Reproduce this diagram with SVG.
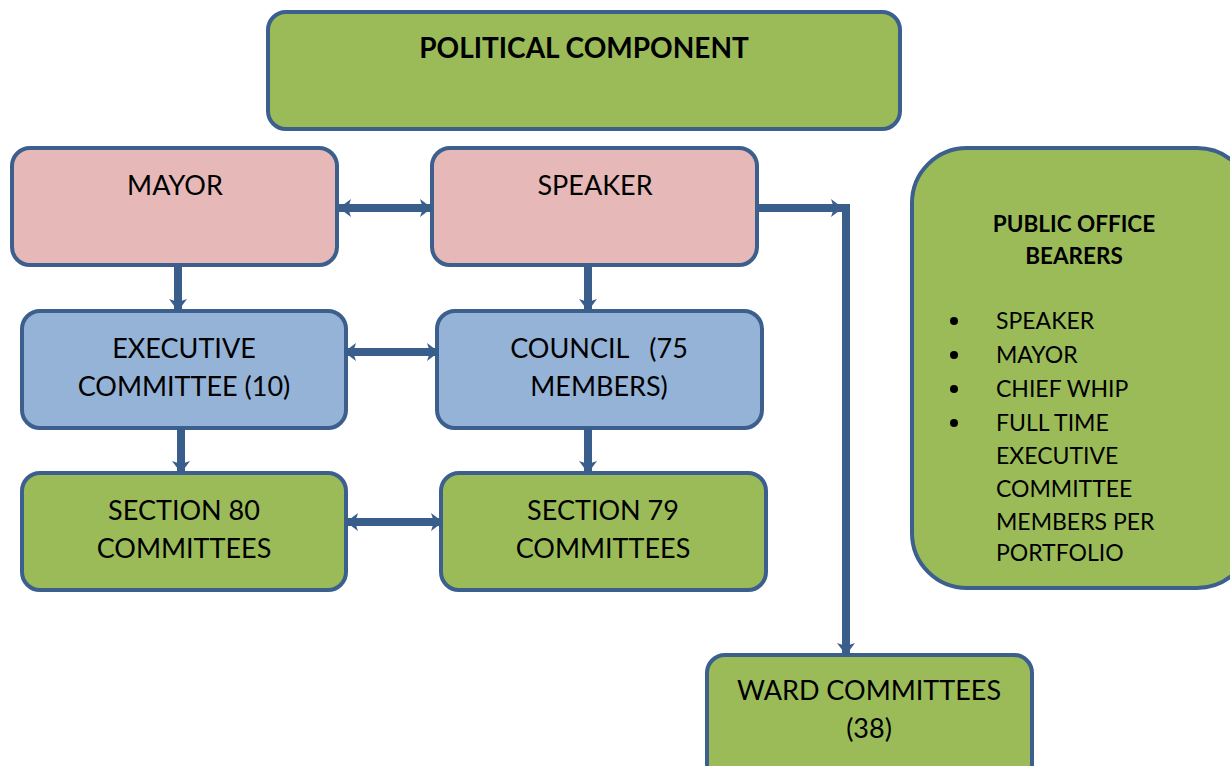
<svg xmlns="http://www.w3.org/2000/svg" width="1230" height="766" viewBox="0 0 1230 766">
  <style>
    .box { stroke: #3c5f8e; stroke-width: 4; }
    .green { fill: #9bbb59; }
    .pink { fill: #e6b9b8; }
    .blue { fill: #95b3d7; }
    .lbl { font-family: Lato, "Open Sans", "Liberation Sans", sans-serif; font-size: 27px; fill: #000; text-anchor: middle; }
    .title { font-size: 28px; font-weight: bold; }
    .item { font-family: Lato, "Open Sans", "Liberation Sans", sans-serif; font-size: 23px; fill: #000; }
    .head { font-size: 22.5px; font-weight: bold; text-anchor: middle; }
    .conn { stroke: #3a5e8c; stroke-width: 8; fill: none; }
  </style>
  <defs>
    <marker id="head" markerUnits="userSpaceOnUse" markerWidth="16" markerHeight="20" refX="12" refY="10" orient="auto-start-reverse">
      <path d="M0,1 L12,10 L0,19 L3,10 Z" fill="#3a5e8c"/>
    </marker>
  </defs>

  <rect width="1230" height="766" fill="#fff"/>

  <g id="political-component">
    <rect class="box green" x="268" y="12" width="632" height="117" rx="18"/>
    <text class="lbl title" x="584" y="58">POLITICAL COMPONENT</text>
  </g>

  <g id="mayor">
    <rect class="box pink" x="12" y="148" width="325" height="117" rx="18"/>
    <text class="lbl" x="175" y="195">MAYOR</text>
  </g>

  <g id="speaker">
    <rect class="box pink" x="432" y="148" width="325" height="117" rx="18"/>
    <text class="lbl" x="595" y="195">SPEAKER</text>
  </g>

  <g id="executive-committee">
    <rect class="box blue" x="22" y="311" width="324" height="117" rx="18"/>
    <text class="lbl" x="184" y="358">EXECUTIVE</text>
    <text class="lbl" x="184" y="396">COMMITTEE (10)</text>
  </g>

  <g id="council">
    <rect class="box blue" x="437" y="311" width="325" height="117" rx="18"/>
    <text class="lbl" x="599" y="358" xml:space="preserve">COUNCIL   (75</text>
    <text class="lbl" x="599" y="396">MEMBERS)</text>
  </g>

  <g id="section-80">
    <rect class="box green" x="22" y="473" width="324" height="117" rx="18"/>
    <text class="lbl" x="184" y="520">SECTION 80</text>
    <text class="lbl" x="184" y="558">COMMITTEES</text>
  </g>

  <g id="section-79">
    <rect class="box green" x="441" y="473" width="325" height="117" rx="18"/>
    <text class="lbl" x="603" y="520">SECTION 79</text>
    <text class="lbl" x="603" y="558">COMMITTEES</text>
  </g>

  <g id="ward-committees">
    <rect class="box green" x="707" y="655" width="325" height="130" rx="18"/>
    <text class="lbl" x="869" y="700">WARD COMMITTEES</text>
    <text class="lbl" x="869" y="738">(38)</text>
  </g>

  <g id="public-office-bearers">
    <rect class="box green" x="912" y="148" width="340" height="440" rx="55"/>
    <text class="item head" x="1074" y="232">PUBLIC OFFICE</text>
    <text class="item head" x="1074" y="264">BEARERS</text>
    <g fill="#000">
      <circle cx="954" cy="321" r="4"/>
      <circle cx="954" cy="355" r="4"/>
      <circle cx="954" cy="389" r="4"/>
      <circle cx="954" cy="423" r="4"/>
    </g>
    <text class="item" x="996" y="329">SPEAKER</text>
    <text class="item" x="996" y="363">MAYOR</text>
    <text class="item" x="996" y="397">CHIEF WHIP</text>
    <text class="item" x="996" y="431">FULL TIME</text>
    <text class="item" x="996" y="464">EXECUTIVE</text>
    <text class="item" x="996" y="497">COMMITTEE</text>
    <text class="item" x="996" y="530">MEMBERS PER</text>
    <text class="item" x="996" y="561">PORTFOLIO</text>
  </g>

  <g id="connectors">
    <!-- horizontal two-way links -->
    <line class="conn" x1="339" y1="208" x2="432" y2="208" marker-start="url(#head)" marker-end="url(#head)"/>
    <line class="conn" x1="344" y1="352" x2="439" y2="352" marker-start="url(#head)" marker-end="url(#head)"/>
    <line class="conn" x1="346" y1="522" x2="443" y2="522" marker-start="url(#head)" marker-end="url(#head)"/>
    <!-- downward links -->
    <line class="conn" x1="178" y1="265" x2="178" y2="311" marker-end="url(#head)"/>
    <line class="conn" x1="588" y1="265" x2="588" y2="311" marker-end="url(#head)"/>
    <line class="conn" x1="181" y1="428" x2="181" y2="473" marker-end="url(#head)"/>
    <line class="conn" x1="588" y1="428" x2="588" y2="473" marker-end="url(#head)"/>
    <!-- speaker to ward committees -->
    <line class="conn" x1="759" y1="208" x2="843" y2="208" marker-end="url(#head)"/>
    <line class="conn" x1="846" y1="204" x2="846" y2="655" marker-end="url(#head)"/>
  </g>
</svg>
